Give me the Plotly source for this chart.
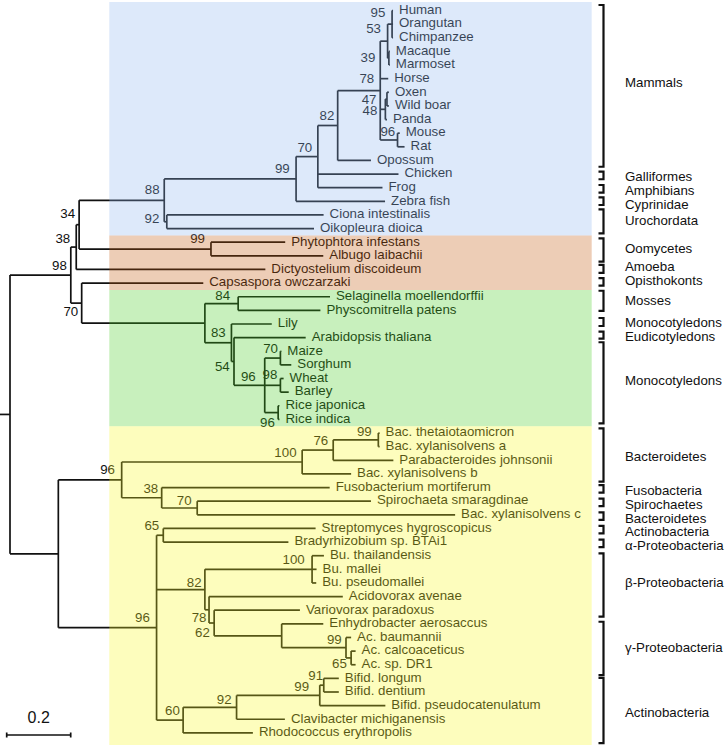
import plotly.graph_objects as go

# ---------------- data ----------------
tip_names = [
    "Human", "Orangutan", "Chimpanzee", "Macaque", "Marmoset", "Horse", "Oxen",
    "Wild boar", "Panda", "Mouse", "Rat", "Opossum", "Chicken", "Frog", "Zebra fish",
    "Ciona intestinalis", "Oikopleura dioica", "Phytophtora infestans", "Albugo laibachii",
    "Dictyostelium discoideum", "Capsaspora owczarzaki", "Selaginella moellendorffii",
    "Physcomitrella patens", "Lily", "Arabidopsis thaliana", "Maize", "Sorghum", "Wheat",
    "Barley", "Rice japonica", "Rice indica", "Bac. thetaiotaomicron",
    "Bac. xylanisolvens a", "Parabacteroides johnsonii", "Bac. xylanisolvens b",
    "Fusobacterium mortiferum", "Spirochaeta smaragdinae", "Bac. xylanisolvens c",
    "Streptomyces hygroscopicus", "Bradyrhizobium sp. BTAi1", "Bu. thailandensis",
    "Bu. mallei", "Bu. pseudomallei", "Acidovorax avenae", "Variovorax paradoxus",
    "Enhydrobacter aerosaccus", "Ac. baumannii", "Ac. calcoaceticus", "Ac. sp. DR1",
    "Bifid. longum", "Bifid. dentium", "Bifid. pseudocatenulatum",
    "Clavibacter michiganensis", "Rhodococcus erythropolis",
]
tip_parent = [
    "p95", "p95", "p95", "p39", "p39", "n78", "l47", "l47", "l48", "r96", "r96", "n82",
    "n70m", "n70m", "n99v", "n92", "n92", "o99", "o99", "n38", "n70e", "n84", "n84",
    "n83", "n54", "m70", "m70", "w98", "w98", "rice96", "rice96", "b99", "b99", "b76",
    "b100", "b38", "b70", "b70", "b65", "b65", "bu100", "bu100", "bu100", "b78", "b62",
    "bea", "ac99", "ac65", "ac65", "bf91", "bf91", "bf99", "b92", "b60",
]
tip_length = [
    0.003, 0.003, 0.003, 0.003, 0.003, 0.025, 0.006, 0.006, 0.005, 0.007, 0.022, 0.104,
    0.252, 0.202, 0.278, 0.490, 0.460, 0.232, 0.351, 0.591, 0.380, 0.287, 0.257,
    0.126, 0.224, 0.003, 0.034, 0.010, 0.026, 0.004, 0.004, 0.004, 0.004, 0.188,
    0.153, 0.525, 0.543, 0.806, 0.476, 0.391, 0.037, 0.014, 0.013, 0.418, 0.268,
    0.130, 0.016, 0.014, 0.014, 0.047, 0.047, 0.205, 0.151, 0.218,
]

node_ids = [
    "root", "euk", "n38", "n34", "n88", "n99v", "n70m", "n82", "n78", "prim53", "p95",
    "p39", "l48", "l47", "r96", "n92", "o99", "n70e", "plants", "n84", "n83", "n54",
    "c96", "m70", "w98", "rice96", "bact", "b96u", "b100", "b76", "b99", "b38", "b70",
    "b96l", "b65", "b82", "bu100", "b78", "b62", "bea", "ac99", "ac65", "b60", "b92",
    "bf99", "bf91",
]
node_parent = [
    None, "root", "euk", "n38", "n34", "n88", "n99v", "n70m", "n82", "n78", "prim53",
    "prim53", "n78", "l48", "n78", "n88", "n34", "euk", "n70e", "plants", "plants", "n83",
    "n54", "c96", "c96", "c96", "root", "bact", "b96u", "b100", "b76", "b96u", "b38",
    "bact", "b96l", "b96l", "b82", "b82", "b78", "b62", "bea", "ac99", "b96l", "b60",
    "b92", "bf99",
]
node_length = [
    0.0, 0.190, 0.017, 0.009, 0.266, 0.412, 0.068, 0.062, 0.133, 0.023, 0.014,
    0.004, 0.016, 0.005, 0.054, 0.008, 0.412, 0.034, 0.385, 0.104, 0.083, 0.008,
    0.096, 0.049, 0.049, 0.042, 0.151, 0.198, 0.564, 0.097, 0.141, 0.125, 0.111,
    0.307, 0.021, 0.151, 0.335, 0.013, 0.016, 0.211, 0.201, 0.016, 0.083, 0.167,
    0.260, 0.0125,
]
node_support = [
    None, 98, 38, 34, 88, 99, 70, 82, 78, 53, 95, 39, 48, 47, 96, 92, 99, 70, None, 84,
    83, 54, 96, 70, 98, 96, None, 96, 100, 76, 99, 38, 70, 96, 65, 82, 100, 78, 62, None,
    99, 65, 60, 92, 99, 91,
]

clade_names = [
    "Mammals", "Galliformes", "Amphibians", "Cyprinidae", "Urochordata", "Oomycetes",
    "Amoeba", "Opisthokonts", "Mosses", "Monocotyledons", "Eudicotyledons",
    "Monocotyledons", "Bacteroidetes", "Fusobacteria", "Spirochaetes", "Bacteroidetes",
    "Actinobacteria", "α-Proteobacteria", "β-Proteobacteria", "γ-Proteobacteria",
    "Actinobacteria",
]
clade_first = [0, 12, 13, 14, 15, 17, 19, 20, 21, 23, 24, 25, 31, 35, 36, 37, 38, 39, 40, 45, 49]
clade_last = [11, 12, 13, 14, 16, 18, 19, 20, 22, 23, 24, 30, 34, 35, 36, 37, 38, 39, 44, 48, 53]

band_first = [0, 17, 21, 31]
band_last = [16, 20, 30, 53]
band_colors = ["rgb(142,182,238)", "rgb(195,88,12)", "rgb(72,205,38)", "rgb(248,248,38)"]

scale_value = 0.2
scale_label = "0.2"

# ---------------- layout constants (pixels) ----------------
W, H = 726, 747
PX = 320.0          # pixels per unit branch length
ROOT_PX = 10.0      # x pixel of the root
ROW = 13.63         # pixels per tip row
TOP = 10.5          # y pixel of first tip
FONT = "Liberation Sans, Arial, sans-serif"

# bracket padding above first tip / below last tip, and label shift (pixels)
clade_style = [
    (5.5, 6.3, -2.5), (2.4, 5.2, 2.5), (2.7, 5.0, 2.75), (4.0, 3.7, 4.05), (5.6, 4.7, 0.5),
    (3.9, 5.8, 0.0), (4.5, 3.5, -0.8), (5.0, 2.5, -0.05), (6.0, 0.5, 1.0), (6.0, 2.0, 1.5),
    (6.0, 1.0, 3.0), (9.0, 4.0, -1.0), (4.7, 7.7, 3.0), (2.5, 5.0, 3.2), (2.5, 5.0, 3.2),
    (2.5, 5.0, 3.2), (2.5, 5.0, 3.2), (2.5, 5.0, 3.2), (2.4, 6.5, -1.0), (2.1, 10.3, 0.0),
    (0.5, 10.3, 3.0),
]

def dx(p):
    return p / PX

def dy(p):
    return p / ROW

# ---------------- tree computation ----------------
parent_of = {}
length_of = {}
for nid, par, ln in zip(node_ids, node_parent, node_length):
    parent_of[nid] = par
    length_of[nid] = ln
children = {nid: [] for nid in node_ids}
for nid, par in zip(node_ids, node_parent):
    if par is not None:
        children[par].append(nid)
for i, (par, ln) in enumerate(zip(tip_parent, tip_length)):
    key = ("tip", i)
    parent_of[key] = par
    length_of[key] = ln
    children[par].append(key)

depth = {}
def get_depth(k):
    if k in depth:
        return depth[k]
    par = parent_of[k]
    d = 0.0 if par is None else get_depth(par) + length_of[k]
    depth[k] = d
    return d

ypos = {}
def get_y(k):
    if k in ypos:
        return ypos[k]
    if isinstance(k, tuple):
        v = float(k[1])
    else:
        ys = [get_y(c) for c in children[k]]
        v = (min(ys) + max(ys)) / 2.0
    ypos[k] = v
    return v

all_keys = list(node_ids) + [("tip", i) for i in range(len(tip_names))]
for k in all_keys:
    get_depth(k)
    get_y(k)

lx, ly = [], []
for k in all_keys:
    par = parent_of[k]
    if par is not None:
        lx += [depth[par], depth[k], None]
        ly += [ypos[k], ypos[k], None]
for nid in node_ids:
    ys = [ypos[c] for c in children[nid]]
    lx += [depth[nid], depth[nid], None]
    ly += [min(ys), max(ys), None]
# root stub
lx += [-dx(ROOT_PX), 0.0, None]
ly += [ypos["root"], ypos["root"], None]

fig = go.Figure()
fig.add_trace(go.Scatter(x=lx, y=ly, mode="lines",
                         line=dict(color="#111111", width=1.7),
                         hoverinfo="skip", showlegend=False))

# tip labels
fig.add_trace(go.Scatter(
    x=[depth[("tip", i)] + dx(6.0) for i in range(len(tip_names))],
    y=[ypos[("tip", i)] for i in range(len(tip_names))],
    text=tip_names, mode="text", textposition="middle right",
    textfont=dict(family=FONT, size=13.3, color="#111111"),
    hoverinfo="skip", showlegend=False))

# bootstrap labels: (right-edge dx, centre dy) offsets in pixels
support_offset = {
    "euk": (-4, -8), "n38": (-6, -7), "n34": (-4, -10), "n88": (-4.7, -10),
    "n92": (-7.4, -2), "n99v": (-6.4, -9.3), "n70m": (-5.6, -8.4), "n82": (-3.3, -9),
    "n78": (-6, -11), "prim53": (-6.6, -11), "p95": (-6.7, -10), "p39": (-13.5, 0),
    "l48": (-8, 2), "l47": (-10.5, 1.5), "r96": (-2.3, -7), "o99": (-6, -9),
    "n70e": (-3.4, 10), "n84": (-8, -7), "n83": (-5.7, -8.7), "n54": (-4.3, 6.7),
    "c96": (-9, -8), "m70": (-2.4, -8.7), "w98": (-3, -10), "rice96": (-3.3, 11),
    "b96u": (-6.7, -9), "b100": (-5.6, -8.7), "b76": (-5, -8), "b99": (-6.6, -7),
    "b38": (-3.4, -8), "b70": (-5.6, -6), "b96l": (-6.7, -9), "b65": (-4, -8.3),
    "b82": (-3.3, -5.7), "bu100": (-7.3, -8.6), "b78": (-2.6, 9), "b62": (-4.3, 10.5),
    "ac99": (-4.3, -7.5), "ac65": (-4.3, 7), "b60": (-3.3, -8.7), "b92": (-5, -6.5),
    "bf99": (-10.7, -8), "bf91": (-0.7, -8.3),
}
sx, sy, st = [], [], []
for nid, sup in zip(node_ids, node_support):
    if sup is None:
        continue
    ox, oy = support_offset.get(nid, (-5, -8.5))
    sx.append(depth[nid] + dx(ox))
    sy.append(ypos[nid] + dy(oy))
    st.append(str(sup))
fig.add_trace(go.Scatter(x=sx, y=sy, text=st, mode="text", textposition="middle left",
                         textfont=dict(family=FONT, size=13.3, color="#111111"),
                         hoverinfo="skip", showlegend=False))

# clade brackets
BR_X = 603.5 - ROOT_PX
BR_TICK = 5.0
bx, by = [], []
cx, cy = [], []
for name, f, l, (pt, pb, ld) in zip(clade_names, clade_first, clade_last, clade_style):
    y0, y1 = f - dy(pt), l + dy(pb)
    xl = dx(BR_X)
    xt = dx(BR_X - BR_TICK)
    bx += [xt, xl, xl, xt, None]
    by += [y0, y0, y1, y1, None]
    cx.append(dx(625 - ROOT_PX))
    cy.append((y0 + y1) / 2 + dy(ld))
fig.add_trace(go.Scatter(x=bx, y=by, mode="lines", line=dict(color="#111111", width=2.2),
                         hoverinfo="skip", showlegend=False))
fig.add_trace(go.Scatter(x=cx, y=cy, text=clade_names, mode="text", textposition="middle right",
                         textfont=dict(family=FONT, size=13.3, color="#111111"),
                         hoverinfo="skip", showlegend=False))

# scale bar
sb_x0 = dx(6.7 - ROOT_PX)
sb_y = dy(735 - TOP)
fig.add_trace(go.Scatter(
    x=[sb_x0, sb_x0 + scale_value, None, sb_x0, sb_x0, None, sb_x0 + scale_value, sb_x0 + scale_value],
    y=[sb_y, sb_y, None, sb_y - dy(2.5), sb_y + dy(2.5), None, sb_y - dy(2.5), sb_y + dy(2.5)],
    mode="lines", line=dict(color="#111111", width=1.7), hoverinfo="skip", showlegend=False))
fig.add_trace(go.Scatter(x=[sb_x0 + scale_value / 2], y=[dy(719 - TOP)], text=[scale_label],
                         mode="text", textposition="middle center",
                         textfont=dict(family=FONT, size=16, color="#111111"),
                         hoverinfo="skip", showlegend=False))

# coloured bands (translucent, drawn above so the tree is tinted)
shapes = []
for k, (f, l, col) in enumerate(zip(band_first, band_last, band_colors)):
    y0 = f - 0.62 if k == 0 else (band_last[k - 1] + f) / 2.0
    y1 = l + 0.89 if k == len(band_first) - 1 else (l + band_first[k + 1]) / 2.0
    shapes.append(dict(type="rect", xref="x", yref="y",
                       x0=dx(109.3 - ROOT_PX), x1=dx(591.7 - ROOT_PX), y0=y0, y1=y1,
                       fillcolor=col, opacity=0.3, line=dict(width=0), layer="above"))

fig.update_layout(
    width=W, height=H, margin=dict(l=0, r=0, t=0, b=0),
    paper_bgcolor="white", plot_bgcolor="white", shapes=shapes,
    xaxis=dict(visible=False, range=[dx(-ROOT_PX), dx(W - ROOT_PX)], fixedrange=True),
    yaxis=dict(visible=False, range=[dy(H - TOP), dy(-TOP)], fixedrange=True),
    showlegend=False,
)
fig.write_html("out.html", config={"displayModeBar": False},
               post_script="document.body.style.margin='0';document.body.style.overflow='hidden';")
